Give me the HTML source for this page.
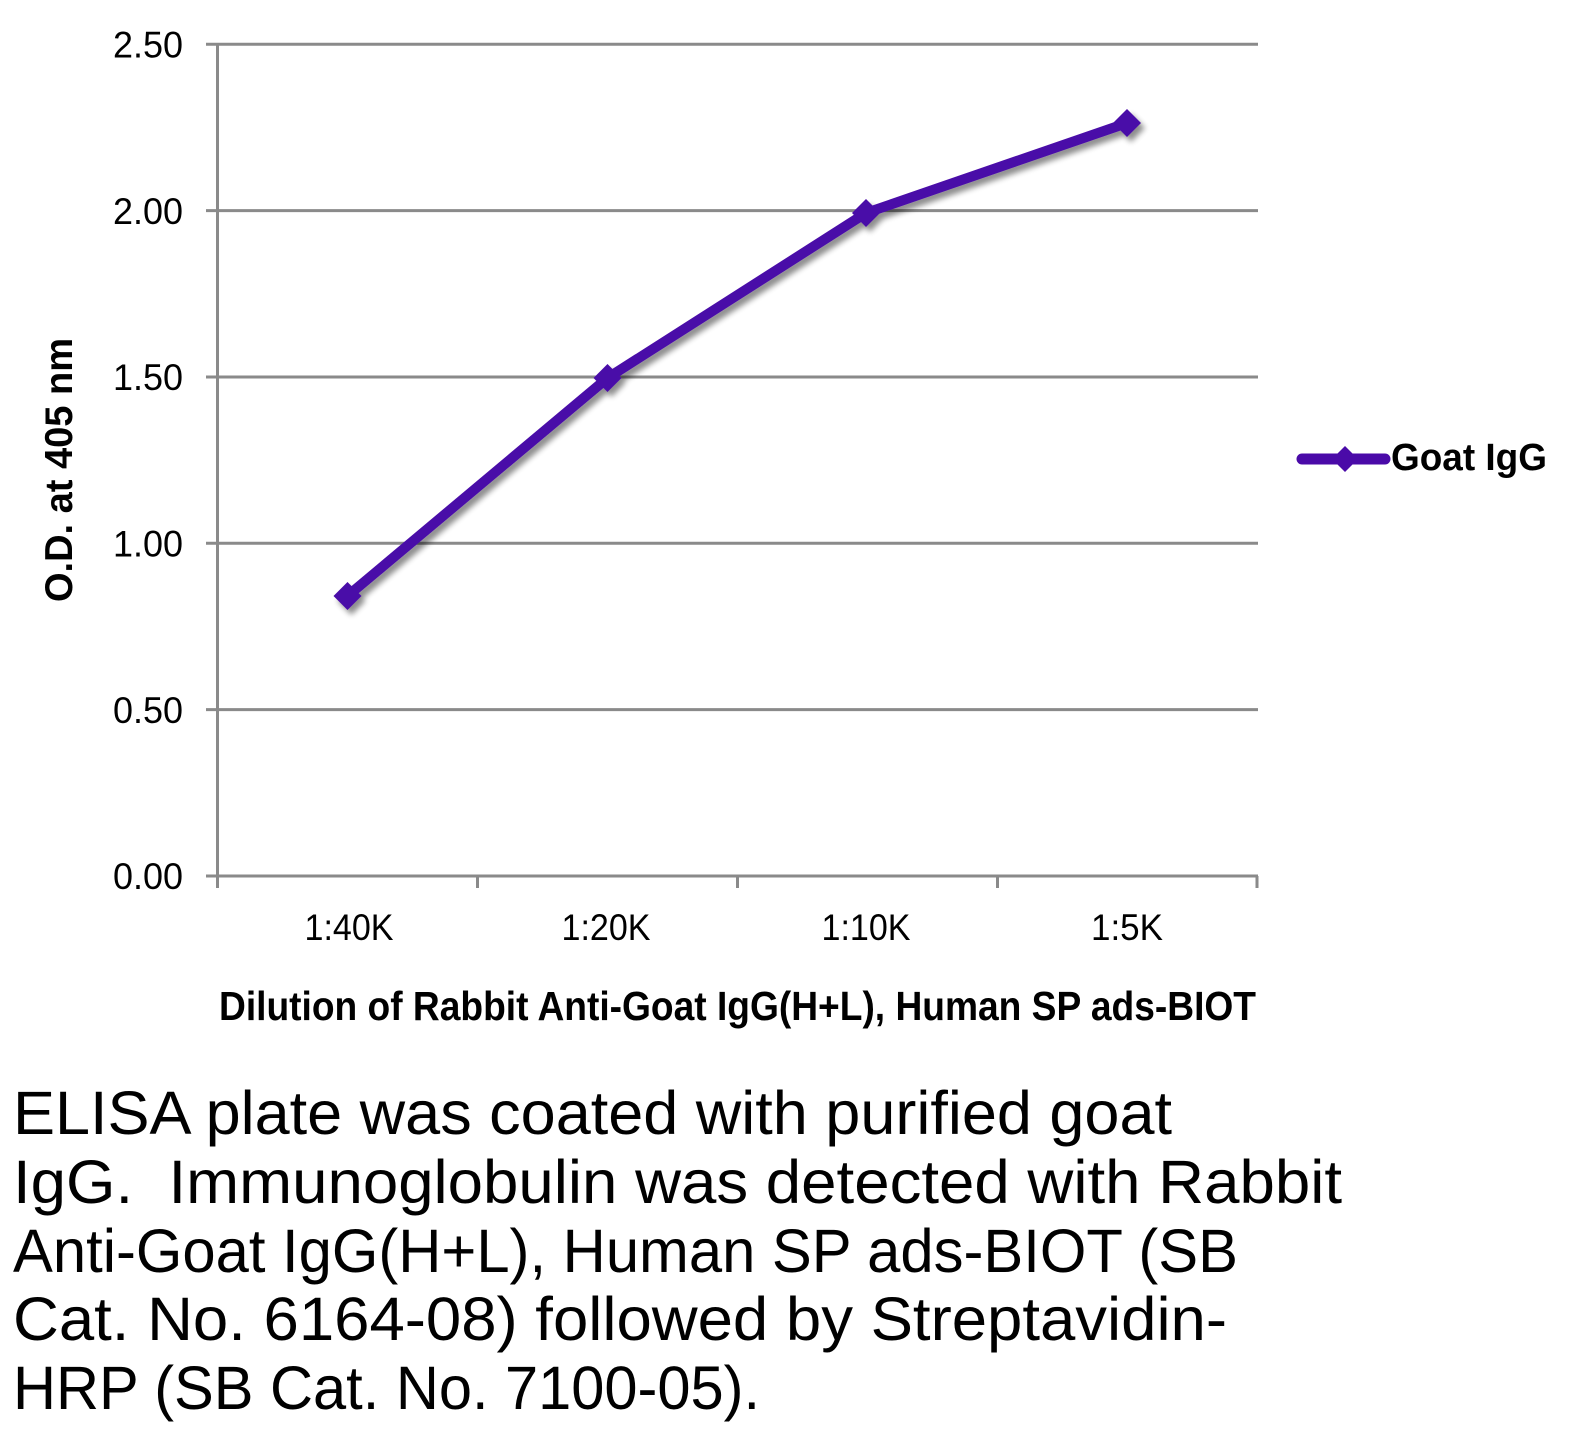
<!DOCTYPE html>
<html>
<head>
<meta charset="utf-8">
<style>
  html,body{margin:0;padding:0;background:#fff;}
  svg{display:block;}
  text{font-family:"Liberation Sans",Arial,sans-serif;fill:#000;}
</style>
</head>
<body>
<svg width="1586" height="1437" viewBox="0 0 1586 1437" xmlns="http://www.w3.org/2000/svg">
  <defs>
    <filter id="sh" x="-20%" y="-20%" width="140%" height="140%">
      <feGaussianBlur in="SourceAlpha" stdDeviation="3"/>
      <feOffset dx="4" dy="5" result="b"/>
      <feComponentTransfer><feFuncA type="linear" slope="0.45"/></feComponentTransfer>
      <feMerge><feMergeNode/><feMergeNode in="SourceGraphic"/></feMerge>
    </filter>
  </defs>
  <rect width="1586" height="1437" fill="#fff"/>

  <!-- gridlines -->
  <g stroke="#8a8a8a" stroke-width="3" fill="none">
    <line x1="206" y1="44.3" x2="1258" y2="44.3"/>
    <line x1="206" y1="210.6" x2="1258" y2="210.6"/>
    <line x1="206" y1="377" x2="1258" y2="377"/>
    <line x1="206" y1="543.3" x2="1258" y2="543.3"/>
    <line x1="206" y1="709.6" x2="1258" y2="709.6"/>
    <line x1="206" y1="876" x2="1258" y2="876"/>
    <!-- y axis -->
    <line x1="217.5" y1="44.3" x2="217.5" y2="888"/>
    <!-- x ticks -->
    <line x1="477.5" y1="876" x2="477.5" y2="888"/>
    <line x1="737.5" y1="876" x2="737.5" y2="888"/>
    <line x1="997.5" y1="876" x2="997.5" y2="888"/>
    <line x1="1257" y1="876" x2="1257" y2="888"/>
  </g>

  <!-- y tick labels -->
  <g font-size="37" text-anchor="end">
    <text x="183" y="57.5" textLength="70" lengthAdjust="spacingAndGlyphs">2.50</text>
    <text x="183" y="223.8" textLength="70" lengthAdjust="spacingAndGlyphs">2.00</text>
    <text x="183" y="390.2" textLength="70" lengthAdjust="spacingAndGlyphs">1.50</text>
    <text x="183" y="556.5" textLength="70" lengthAdjust="spacingAndGlyphs">1.00</text>
    <text x="183" y="722.8" textLength="70" lengthAdjust="spacingAndGlyphs">0.50</text>
    <text x="183" y="889.2" textLength="70" lengthAdjust="spacingAndGlyphs">0.00</text>
  </g>

  <!-- x tick labels -->
  <g font-size="37" text-anchor="middle">
    <text x="349" y="940" textLength="89" lengthAdjust="spacingAndGlyphs">1:40K</text>
    <text x="606" y="940" textLength="89" lengthAdjust="spacingAndGlyphs">1:20K</text>
    <text x="866" y="940" textLength="89" lengthAdjust="spacingAndGlyphs">1:10K</text>
    <text x="1127" y="940" textLength="72" lengthAdjust="spacingAndGlyphs">1:5K</text>
  </g>

  <!-- axis titles -->
  <text x="219" y="1020" font-size="41" font-weight="bold" textLength="1037" lengthAdjust="spacingAndGlyphs">Dilution of Rabbit Anti-Goat IgG(H+L), Human SP ads-BIOT</text>
  <text transform="translate(72,470) rotate(-90)" x="0" y="0" font-size="39" font-weight="bold" text-anchor="middle" textLength="264" lengthAdjust="spacingAndGlyphs">O.D. at 405 nm</text>

  <!-- series -->
  <g filter="url(#sh)">
    <polyline points="347.5,596 607.5,378 866,213 1127,123" fill="none" stroke="#4a0aa8" stroke-width="10" stroke-linejoin="round" stroke-linecap="round"/>
    <g fill="#4a0aa8">
      <polygon points="347.5,582 361.5,596 347.5,610 333.5,596"/>
      <polygon points="607.5,364 621.5,378 607.5,392 593.5,378"/>
      <polygon points="866,199 880,213 866,227 852,213"/>
      <polygon points="1127,109 1141,123 1127,137 1113,123"/>
    </g>
  </g>

  <!-- legend -->
  <line x1="1302" y1="459" x2="1385" y2="459" stroke="#4a0aa8" stroke-width="11" stroke-linecap="round"/>
  <polygon points="1345,446 1358,459 1345,472 1332,459" fill="#4a0aa8"/>
  <text x="1391" y="470" font-size="38" font-weight="bold" textLength="156" lengthAdjust="spacingAndGlyphs">Goat IgG</text>

  <!-- caption -->
  <g font-size="61" style="white-space:pre">
    <text x="13" y="1134" textLength="1159" lengthAdjust="spacingAndGlyphs">ELISA plate was coated with purified goat</text>
    <text x="13" y="1203" textLength="1329" lengthAdjust="spacingAndGlyphs" xml:space="preserve">IgG.  Immunoglobulin was detected with Rabbit</text>
    <text x="13" y="1272" textLength="1225" lengthAdjust="spacingAndGlyphs">Anti-Goat IgG(H+L), Human SP ads-BIOT (SB</text>
    <text x="13" y="1340" textLength="1214" lengthAdjust="spacingAndGlyphs">Cat. No. 6164-08) followed by Streptavidin-</text>
    <text x="13" y="1409" textLength="747" lengthAdjust="spacingAndGlyphs">HRP (SB Cat. No. 7100-05).</text>
  </g>
</svg>
</body>
</html>
